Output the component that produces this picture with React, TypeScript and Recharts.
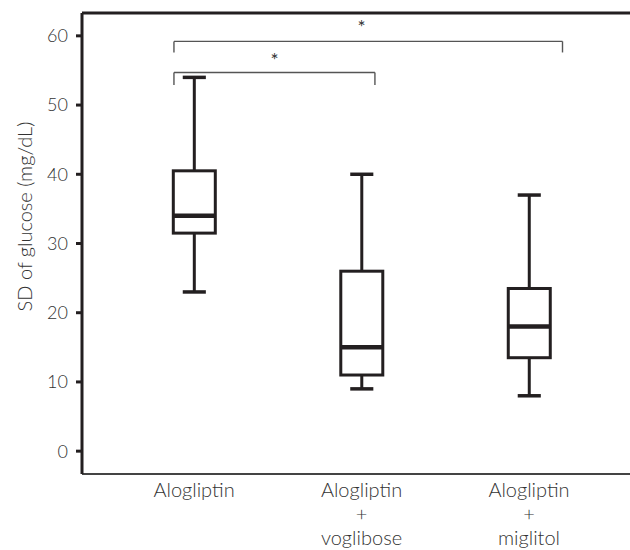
import React from 'react';
import { ComposedChart, Bar, XAxis, YAxis, ReferenceLine, ReferenceDot, Label } from 'recharts';

const categories = ['Alogliptin', 'Alogliptin\n+\nvoglibose', 'Alogliptin\n+\nmiglitol'];
const positions = [1, 2, 3];
const minValues = [23, 9, 8];
const q1Values = [31.5, 11, 13.5];
const medianValues = [34, 15, 18];
const q3Values = [40.5, 26, 23.5];
const maxValues = [54, 40, 37];

const yTicks = [0, 10, 20, 30, 40, 50, 60];

const brackets = [
  { from: 0.88, to: 2.08, y: 54.7, foot: 52.9, starX: 1.48, starY: 56.6 },
  { from: 0.88, to: 3.2, y: 59.2, foot: 57.6, starX: 2.0, starY: 61.4 },
];

const data = categories.map((name, i) => ({
  name,
  pos: positions[i],
  min: minValues[i],
  q1: q1Values[i],
  median: medianValues[i],
  q3: q3Values[i],
  max: maxValues[i],
}));

const INK = '#231f20';
const TEXT = '#333333';
const FONT = 'Lato, "Open Sans", sans-serif';

const BoxShape = (props: any) => {
  const { x, y, width, height, payload } = props;
  if (x == null || y == null) return null;
  const top = Math.min(y, y + height);
  const bottom = Math.max(y, y + height);
  const span = payload.max - payload.min;
  const px = (v: number) => bottom - ((v - payload.min) / span) * (bottom - top);
  const cx = x + width / 2;
  const capW = width * 0.55;
  const yq1 = px(payload.q1);
  const yq3 = px(payload.q3);
  const ymed = px(payload.median);
  return (
    <g>
      <line x1={cx} x2={cx} y1={top} y2={yq3} stroke={INK} strokeWidth={3} />
      <line x1={cx} x2={cx} y1={yq1} y2={bottom} stroke={INK} strokeWidth={3} />
      <line x1={cx - capW / 2} x2={cx + capW / 2} y1={top} y2={top} stroke={INK} strokeWidth={3.5} />
      <line x1={cx - capW / 2} x2={cx + capW / 2} y1={bottom} y2={bottom} stroke={INK} strokeWidth={3.5} />
      <rect x={x} y={yq3} width={width} height={yq1 - yq3} fill="#fff" stroke={INK} strokeWidth={3} />
      <line x1={x} x2={x + width} y1={ymed} y2={ymed} stroke={INK} strokeWidth={4.5} />
    </g>
  );
};

const XTick = (props: any) => {
  const { x, payload } = props;
  const idx = positions.indexOf(payload.value);
  const lines = idx >= 0 ? categories[idx].split('\n') : [];
  return (
    <text x={x} y={497} textAnchor="middle" fill={TEXT} fontFamily={FONT} fontWeight={300} fontSize={20}>
      {lines.map((l, i) => (
        <tspan key={i} x={x} dy={i === 0 ? 0 : 24}>
          {l}
        </tspan>
      ))}
    </text>
  );
};

const StarShape = (props: any) => (
  <text x={props.cx} y={props.cy} textAnchor="middle" dominantBaseline="central" fill={TEXT} fontFamily={FONT} fontSize={19}>
    *
  </text>
);

export default function App() {
  return (
    <div style={{ position: 'absolute', left: 0, top: 0, width: 630, height: 550, overflow: 'hidden' }}>
      <ComposedChart
        width={630}
        height={550}
        data={data}
        margin={{ top: 13, right: 0, bottom: 0, left: 0 }}
      >
        <XAxis
          dataKey="pos"
          type="number"
          domain={[0.331, 3.603]}
          ticks={positions}
          allowDataOverflow
          height={76}
          axisLine={{ stroke: '#444', strokeWidth: 2 }}
          tickLine={false}
          tick={<XTick />}
          interval={0}
        />
        <YAxis
          type="number"
          domain={[-3.3, 63.3]}
          ticks={yTicks}
          allowDataOverflow
          width={82}
          axisLine={{ stroke: INK, strokeWidth: 3 }}
          tickLine={{ stroke: INK, strokeWidth: 3 }}
          tickSize={6}
          tickMargin={8}
          tick={{ fill: TEXT, fontSize: 18, fontFamily: FONT, fontWeight: 300 }}
        >
          <Label
            content={(p: any) => {
              const vb = p.viewBox || { x: 0, y: 13, width: 82, height: 461 };
              const cy = vb.y + vb.height / 2 - 27;
              return (
                <text
                  x={24}
                  y={cy}
                  transform={`rotate(-90 24 ${cy})`}
                  textAnchor="middle"
                  dominantBaseline="central"
                  fill={TEXT}
                  fontFamily={FONT}
                  fontWeight={300}
                  fontSize={20}
                >
                  SD of glucose (mg/dL)
                </text>
              );
            }}
          />
        </YAxis>
        <ReferenceLine y={63.3} stroke={INK} strokeWidth={3} ifOverflow="extendDomain" />
        <Bar
          dataKey={(d: any) => [d.min, d.max]}
          barSize={42}
          shape={<BoxShape />}
          isAnimationActive={false}
        />
        {brackets.map((b, i) => (
          <ReferenceLine
            key={`h${i}`}
            segment={[{ x: b.from, y: b.y }, { x: b.to, y: b.y }]}
            stroke="#555"
            strokeWidth={1.4}
          />
        ))}
        {brackets.map((b, i) => (
          <ReferenceLine
            key={`l${i}`}
            segment={[{ x: b.from, y: b.y }, { x: b.from, y: b.foot }]}
            stroke="#555"
            strokeWidth={1.4}
          />
        ))}
        {brackets.map((b, i) => (
          <ReferenceLine
            key={`r${i}`}
            segment={[{ x: b.to, y: b.y }, { x: b.to, y: b.foot }]}
            stroke="#555"
            strokeWidth={1.4}
          />
        ))}
        {brackets.map((b, i) => (
          <ReferenceDot key={`s${i}`} x={b.starX} y={b.starY} r={0} shape={<StarShape />} />
        ))}
      </ComposedChart>
    </div>
  );
}
